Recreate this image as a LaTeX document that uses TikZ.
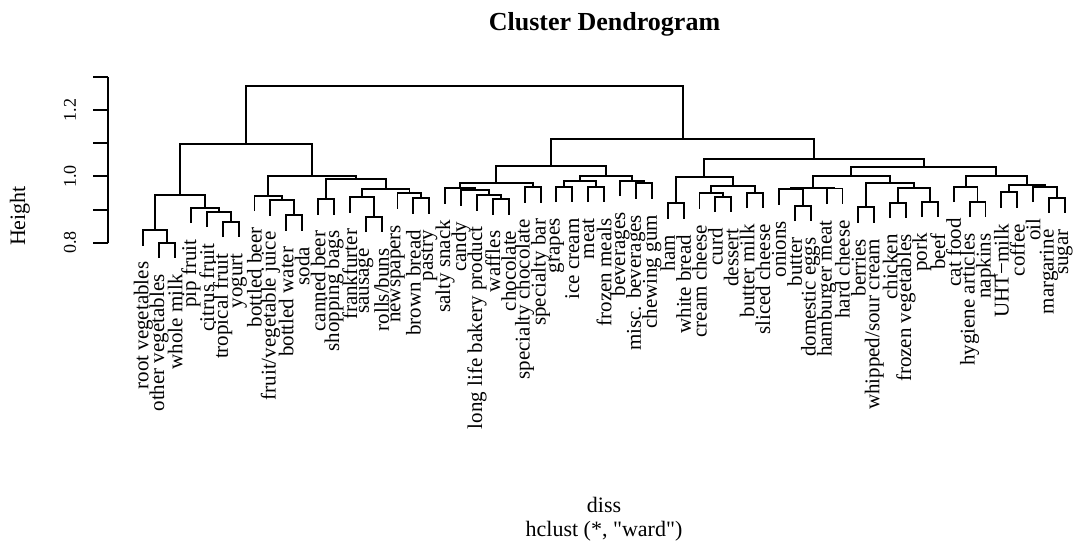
\documentclass[tikz,border=0pt]{standalone}
\usepackage{fontspec}
\setmainfont{Liberation Serif}[Ligatures=TeXOff]
\usetikzlibrary{calc}
\tikzset{
  dlink/.style={line width=1.9pt},
  axisline/.style={line width=1.9pt},
  lab/.style={rotate=90, anchor=east, inner sep=0pt, font=\fontsize{21}{21}\selectfont},
  ticklab/.style={rotate=90, anchor=center, inner sep=0pt, font=\fontsize{18}{18}\selectfont},
  titletext/.style={anchor=base, inner sep=0pt, font=\fontsize{26}{26}\selectfont\bfseries},
  axtitle/.style={anchor=base, inner sep=0pt, font=\fontsize{22}{22}\selectfont},
}
\newcommand{\mrg}[4]{%
  \path ($(#2)!0.5!(#3)$) coordinate (tmp);
  \coordinate (#1) at (tmp |- 0,#4);
  \draw[dlink] (#2) |- (#1) -| (#3);
}
\begin{document}
\begin{tikzpicture}[x=1pt,y=-1pt]
\useasboundingbox (0,0) rectangle (1073,542);
% leaf ends
\foreach \i/\e in {1/245.5,2/258.2,3/258.2,4/223.2,5/227.2,6/237.2,7/237.2,8/211.2,9/215.5,10/230.5,
  11/230.5,12/214.5,13/214.5,14/212.8,15/232.2,16/232.2,17/208.8,18/213.8,19/213.8,20/203.8,
  21/205.5,22/210.5,23/214.5,24/214.5,25/202.8,26/202.8,27/202.2,28/202.2,29/202.2,30/202.2,
  31/196.2,32/198.8,33/198.8,34/218.8,35/218.8,36/208.8,37/212.2,38/212.2,39/208.2,40/208.2,
  41/204.8,42/221.2,43/221.2,44/204,45/204,46/222.8,47/222.8,48/218.2,49/218.2,50/217.2,
  51/217.2,52/202.2,53/217.2,54/217.2,55/207.8,56/207.8,57/202.2,58/213.2,59/213.2}
  \coordinate (p\i) at ({143.3+(\i-1)*15.89},\e);
% leaf labels
\node[lab] (l1) at ($(p1)+(0,16)$) {root vegetables};
\node[lab] (l2) at ($(p2)+(0,16)$) {other vegetables};
\node[lab] (l3) at ($(p3)+(0,16)$) {whole milk};
\node[lab] (l4) at ($(p4)+(0,16)$) {pip fruit};
\node[lab] (l5) at ($(p5)+(0,16)$) {citrus fruit};
\node[lab] (l6) at ($(p6)+(0,16)$) {tropical fruit};
\node[lab] (l7) at ($(p7)+(0,16)$) {yogurt};
\node[lab] (l8) at ($(p8)+(0,16)$) {bottled beer};
\node[lab] (l9) at ($(p9)+(0,16)$) {fruit/vegetable juice};
\node[lab] (l10) at ($(p10)+(0,16)$) {bottled water};
\node[lab] (l11) at ($(p11)+(0,16)$) {soda};
\node[lab] (l12) at ($(p12)+(0,16)$) {canned beer};
\node[lab] (l13) at ($(p13)+(0,16)$) {shopping bags};
\node[lab] (l14) at ($(p14)+(0,16)$) {frankfurter};
\node[lab] (l15) at ($(p15)+(0,16)$) {sausage};
\node[lab] (l16) at ($(p16)+(0,16)$) {rolls/buns};
\node[lab] (l17) at ($(p17)+(0,16)$) {newspapers};
\node[lab] (l18) at ($(p18)+(0,16)$) {brown bread};
\node[lab] (l19) at ($(p19)+(0,16)$) {pastry};
\node[lab] (l20) at ($(p20)+(0,16)$) {salty snack};
\node[lab] (l21) at ($(p21)+(0,16)$) {candy};
\node[lab] (l22) at ($(p22)+(0,16)$) {long life bakery product};
\node[lab] (l23) at ($(p23)+(0,16)$) {waffles};
\node[lab] (l24) at ($(p24)+(0,16)$) {chocolate};
\node[lab] (l25) at ($(p25)+(0,16)$) {specialty chocolate};
\node[lab] (l26) at ($(p26)+(0,16)$) {specialty bar};
\node[lab] (l27) at ($(p27)+(0,16)$) {grapes};
\node[lab] (l28) at ($(p28)+(0,16)$) {ice cream};
\node[lab] (l29) at ($(p29)+(0,16)$) {meat};
\node[lab] (l30) at ($(p30)+(0,16)$) {frozen meals};
\node[lab] (l31) at ($(p31)+(0,16)$) {beverages};
\node[lab] (l32) at ($(p32)+(0,16)$) {misc. beverages};
\node[lab] (l33) at ($(p33)+(0,16)$) {chewing gum};
\node[lab] (l34) at ($(p34)+(0,16)$) {ham};
\node[lab] (l35) at ($(p35)+(0,16)$) {white bread};
\node[lab] (l36) at ($(p36)+(0,16)$) {cream cheese};
\node[lab] (l37) at ($(p37)+(0,16)$) {curd};
\node[lab] (l38) at ($(p38)+(0,16)$) {dessert};
\node[lab] (l39) at ($(p39)+(0,16)$) {butter milk};
\node[lab] (l40) at ($(p40)+(0,16)$) {sliced cheese};
\node[lab] (l41) at ($(p41)+(0,16)$) {onions};
\node[lab] (l42) at ($(p42)+(0,16)$) {butter};
\node[lab] (l43) at ($(p43)+(0,16)$) {domestic eggs};
\node[lab] (l44) at ($(p44)+(0,16)$) {hamburger meat};
\node[lab] (l45) at ($(p45)+(0,16)$) {hard cheese};
\node[lab] (l46) at ($(p46)+(0,16)$) {berries};
\node[lab] (l47) at ($(p47)+(0,16)$) {whipped/sour cream};
\node[lab] (l48) at ($(p48)+(0,16)$) {chicken};
\node[lab] (l49) at ($(p49)+(0,16)$) {frozen vegetables};
\node[lab] (l50) at ($(p50)+(0,16)$) {pork};
\node[lab] (l51) at ($(p51)+(0,16)$) {beef};
\node[lab] (l52) at ($(p52)+(0,16)$) {cat food};
\node[lab] (l53) at ($(p53)+(0,16)$) {hygiene articles};
\node[lab] (l54) at ($(p54)+(0,16)$) {napkins};
\node[lab] (l55) at ($(p55)+(0,16)$) {UHT−milk};
\node[lab] (l56) at ($(p56)+(0,16)$) {coffee};
\node[lab] (l57) at ($(p57)+(0,16)$) {oil};
\node[lab] (l58) at ($(p58)+(0,16)$) {margarine};
\node[lab] (l59) at ($(p59)+(0,16)$) {sugar};
% merges: left branch
\mrg{a1}{p2}{p3}{242.7}
\mrg{a2}{p1}{a1}{230}
\mrg{a3}{p6}{p7}{221.7}
\mrg{a4}{p5}{a3}{211.7}
\mrg{a5}{p4}{a4}{207.7}
\mrg{a6}{a2}{a5}{195}
\mrg{b1}{p10}{p11}{215}
\mrg{b2}{p9}{b1}{200}
\mrg{b3}{p8}{b2}{195.7}
\mrg{b4}{p12}{p13}{199}
\mrg{b5}{p15}{p16}{216.7}
\mrg{b6}{p14}{b5}{197.3}
\mrg{b7}{p18}{p19}{198.3}
\mrg{b8}{p17}{b7}{193.3}
\mrg{b9}{b6}{b8}{188.7}
\mrg{b10}{b4}{b9}{178.7}
\mrg{b11}{b3}{b10}{176.3}
\mrg{a7}{a6}{b11}{144}
% right branch
\mrg{c1}{p23}{p24}{199}
\mrg{c2}{p22}{c1}{195}
\mrg{c3}{p21}{c2}{190}
\mrg{c4}{p20}{c3}{188.3}
\mrg{c5}{p25}{p26}{187.3}
\mrg{c6}{c4}{c5}{183.3}
\mrg{c7}{p27}{p28}{186.7}
\mrg{c8}{p29}{p30}{186.7}
\mrg{c9}{c7}{c8}{180.7}
\mrg{c10}{p32}{p33}{183.3}
\mrg{c11}{p31}{c10}{180.7}
\mrg{c12}{c9}{c11}{176}
\mrg{c13}{c6}{c12}{166}
\mrg{d1}{p34}{p35}{203.3}
\mrg{d2}{p37}{p38}{196.7}
\mrg{d3}{p36}{d2}{193.3}
\mrg{d4}{p39}{p40}{192.7}
\mrg{d5}{d3}{d4}{185.7}
\mrg{d6}{d1}{d5}{176.7}
\mrg{e1}{p42}{p43}{205.7}
\mrg{e2}{p41}{e1}{189.3}
\mrg{e3}{p44}{p45}{188.5}
\mrg{e4}{e2}{e3}{187.6}
\mrg{e5}{p46}{p47}{207.3}
\mrg{e6}{p48}{p49}{202.7}
\mrg{e7}{p50}{p51}{201.7}
\mrg{e8}{e6}{e7}{188.3}
\mrg{e9}{e5}{e8}{182.7}
\mrg{e10}{e4}{e9}{176}
\mrg{f1}{p53}{p54}{201.7}
\mrg{f2}{p52}{f1}{186.7}
\mrg{f3}{p55}{p56}{192.3}
\mrg{f4}{p58}{p59}{197.7}
\mrg{f5}{p57}{f4}{186.7}
\mrg{f6}{f3}{f5}{185}
\mrg{f7}{f2}{f6}{176}
\mrg{g1}{e10}{f7}{167.3}
\mrg{g2}{d6}{g1}{159.3}
\mrg{g3}{c13}{g2}{139.3}
\mrg{root}{a7}{g3}{86}
% axis
\draw[axisline] (108.3,76.95) -- (108.3,242.7);
\foreach \v in {76.95,110.1,143.25,176.4,209.55,242.7}
  \draw[axisline] (108.3,\v) -- (93,\v);
\node[ticklab] (t08) at (70,242.7) {0.8};
\node[ticklab] (t10) at (70,176.4) {1.0};
\node[ticklab] (t12) at (70,110.1) {1.2};
% titles
\node[titletext] (title) at (604.5,30) {Cluster Dendrogram};
\node[axtitle, rotate=90] (ylab) at (25,216) {Height};
\node[axtitle] (xlab) at (604,512) {diss};
\node[axtitle] (sub) at (604,536) {hclust (*, "ward")};
\end{tikzpicture}
\end{document}
